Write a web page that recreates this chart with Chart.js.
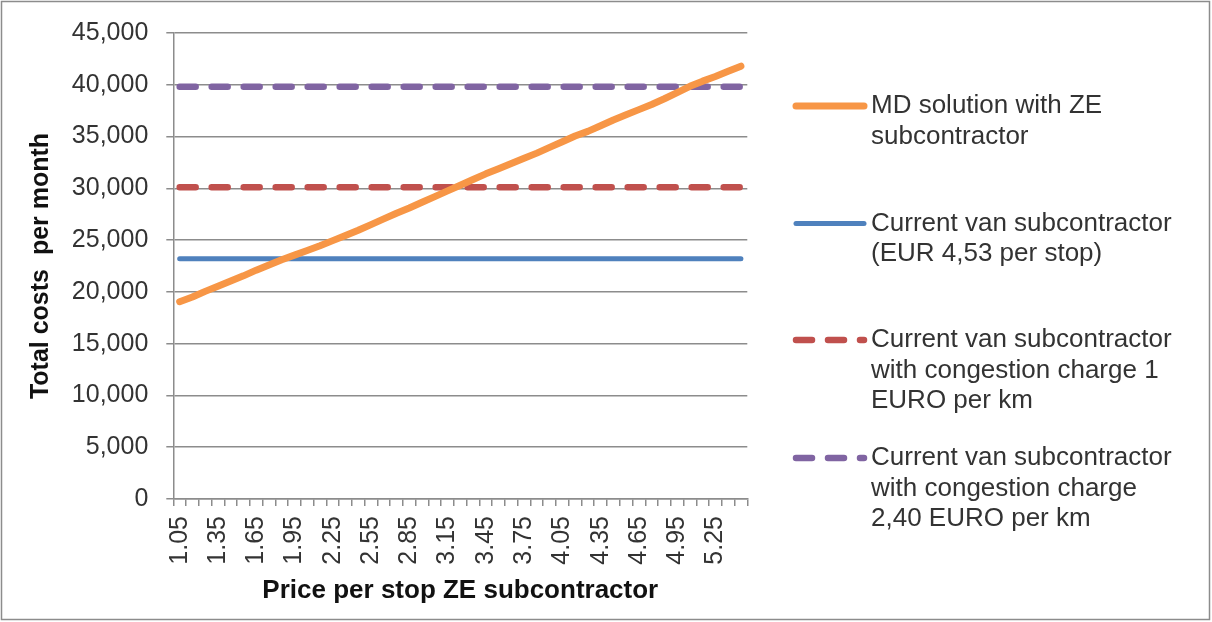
<!DOCTYPE html>
<html>
<head>
<meta charset="utf-8">
<script src="https://cdn.jsdelivr.net/npm/chart.js@4.4.1/dist/chart.umd.min.js"></script>
<style>
  html, body { margin: 0; padding: 0; background: #ffffff; }
  #wrap { width: 1212px; height: 622px; position: relative; }
</style>
</head>
<body>
<div id="wrap"><canvas id="chart" width="1212" height="622"></canvas></div>
<script>
// Price per stop of the ZE subcontractor (EUR)
const categories = [
  '1.05','1.15','1.25','1.35','1.45','1.55','1.65','1.75','1.85','1.95',
  '2.05','2.15','2.25','2.35','2.45','2.55','2.65','2.75','2.85','2.95',
  '3.05','3.15','3.25','3.35','3.45','3.55','3.65','3.75','3.85','3.95',
  '4.05','4.15','4.25','4.35','4.45','4.55','4.65','4.75','4.85','4.95',
  '5.05','5.15','5.25','5.35','5.45'
];

// Category labels printed under the axis
const tickLabels = [
  '1.05','1.35','1.65','1.95','2.25','2.55','2.85','3.15',
  '3.45','3.75','4.05','4.35','4.65','4.95','5.25'
];

// Total monthly costs, MD solution with ZE subcontractor
const mdSolution = [
  19050, 19500, 20050, 20550, 21050, 21550, 22100, 22600, 23100, 23550,
  24000, 24450, 24950, 25450, 25950, 26500, 27050, 27600, 28100, 28650,
  29200, 29750, 30300, 30850, 31400, 31900, 32400, 32900, 33400, 33950,
  34500, 35050, 35500, 36050, 36600, 37100, 37600, 38100, 38650, 39250,
  39850, 40350, 40800, 41300, 41800
];

// Monthly costs of the current van subcontractor (flat for every price)
const vanCurrent = 23200;
const vanCharge1 = 30100;
const vanCharge240 = 39800;

const seriesNames = [
  'MD solution with ZE subcontractor',
  'Current van subcontractor (EUR 4,53 per stop)',
  'Current van subcontractor with congestion charge 1 EURO per km',
  'Current van subcontractor with congestion charge 2,40 EURO per km'
];

// Legend text, wrapped as shown in the side legend
const legendLines = [
  ['MD solution with ZE', 'subcontractor'],
  ['Current van subcontractor', '(EUR 4,53 per stop)'],
  ['Current van subcontractor', 'with congestion charge 1', 'EURO per km'],
  ['Current van subcontractor', 'with congestion charge', '2,40 EURO per km']
];

const COLORS = {
  orange: '#F79646',
  blue: '#4F81BD',
  red: '#C0504D',
  purple: '#8064A2',
  grid: '#8c8c8c',
  text: '#333333'
};
const FONT = "'Liberation Sans', Arial, 'DejaVu Sans', sans-serif";
const DASH = [16, 16];

const flat = v => categories.map(() => v);

// Side legend with line samples and wrapped labels
const sideLegend = {
  id: 'sideLegend',
  afterDraw(chart) {
    const ctx = chart.ctx;
    const x0 = 796, x1 = 864, tx = 871, lineGap = 30.5;
    const rows = [106, 223.5, 340, 458];
    ctx.save();
    chart.data.datasets.forEach((ds, i) => {
      const y = rows[i];
      ctx.beginPath();
      ctx.setLineDash(ds.borderDash || []);
      ctx.lineCap = 'round';
      ctx.lineWidth = ds.borderWidth;
      ctx.strokeStyle = ds.borderColor;
      ctx.moveTo(x0, y);
      ctx.lineTo(x1, y);
      ctx.stroke();
      ctx.setLineDash([]);
      ctx.fillStyle = COLORS.text;
      ctx.font = '26px ' + FONT;
      ctx.textAlign = 'left';
      ctx.textBaseline = 'middle';
      legendLines[i].forEach((t, k) => ctx.fillText(t, tx, y + k * lineGap));
    });
    ctx.restore();
  }
};

// White background and thin outer frame
const frame = {
  id: 'frame',
  beforeDraw(chart) {
    const ctx = chart.ctx;
    ctx.save();
    ctx.fillStyle = '#ffffff';
    ctx.fillRect(0, 0, chart.width, chart.height);
    ctx.strokeStyle = '#8c8c8c';
    ctx.lineWidth = 1.5;
    ctx.strokeRect(1.5, 1.5, 1208, 618);
    ctx.restore();
  }
};

new Chart(document.getElementById('chart'), {
  type: 'line',
  data: {
    labels: categories,
    datasets: [
      {
        label: seriesNames[0],
        data: mdSolution,
        borderColor: COLORS.orange,
        backgroundColor: COLORS.orange,
        borderWidth: 7,
        borderCapStyle: 'round',
        borderJoinStyle: 'round'
      },
      {
        label: seriesNames[1],
        data: flat(vanCurrent),
        borderColor: COLORS.blue,
        backgroundColor: COLORS.blue,
        borderWidth: 5,
        borderCapStyle: 'round'
      },
      {
        label: seriesNames[2],
        data: flat(vanCharge1),
        borderColor: COLORS.red,
        backgroundColor: COLORS.red,
        borderWidth: 6.5,
        borderDash: DASH,
        borderCapStyle: 'round'
      },
      {
        label: seriesNames[3],
        data: flat(vanCharge240),
        borderColor: COLORS.purple,
        backgroundColor: COLORS.purple,
        borderWidth: 6.5,
        borderDash: DASH,
        borderCapStyle: 'round'
      }
    ]
  },
  options: {
    responsive: false,
    animation: false,
    devicePixelRatio: 1,
    elements: { point: { radius: 0, hoverRadius: 0 }, line: { tension: 0 } },
    layout: { padding: { left: 0, top: 30, right: 464.7, bottom: 0 } },
    plugins: {
      legend: { display: false },
      tooltip: { enabled: false }
    },
    scales: {
      x: {
        offset: true,
        grid: {
          offset: true,
          drawOnChartArea: false,
          drawTicks: true,
          tickLength: 7,
          color: COLORS.grid,
          lineWidth: 1.5
        },
        border: { display: true, color: COLORS.grid, width: 1.5 },
        ticks: {
          autoSkip: false,
          minRotation: 90,
          maxRotation: 90,
          padding: 10,
          color: COLORS.text,
          font: { family: FONT, size: 25 },
          callback: function (value) {
            const lab = this.getLabelForValue(value);
            return tickLabels.includes(lab) ? lab : '';
          }
        },
        title: {
          display: true,
          text: 'Price per stop ZE subcontractor',
          color: '#111111',
          font: { family: FONT, size: 26, weight: 'bold' },
          padding: { top: 0, bottom: 16 }
        },
        afterFit(scale) { scale.height = 123; }
      },
      y: {
        min: 0,
        max: 45000,
        grid: {
          color: COLORS.grid,
          lineWidth: 1.5,
          drawTicks: true,
          tickLength: 7
        },
        border: { display: true, color: COLORS.grid, width: 1.5 },
        ticks: {
          stepSize: 5000,
          padding: 18,
          color: COLORS.text,
          font: { family: FONT, size: 25 },
          callback: v => v.toLocaleString('en-US')
        },
        title: {
          display: true,
          text: 'Total costs  per month',
          color: '#111111',
          font: { family: FONT, size: 25, weight: 'bold' },
          padding: { top: 26, bottom: 0 }
        },
        afterFit(scale) { scale.width = 173.3; }
      }
    }
  },
  plugins: [frame, sideLegend]
});
</script>
</body>
</html>
